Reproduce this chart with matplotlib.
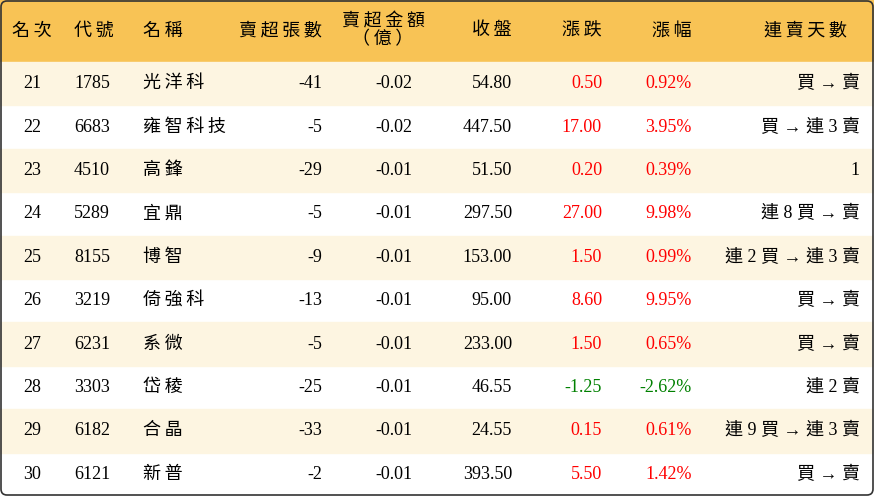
import matplotlib.pyplot as plt
from matplotlib.patches import Rectangle, FancyBboxPatch

plt.rcParams['font.family'] = ['Liberation Serif', 'Noto Sans CJK TC']

ranks = [21, 22, 23, 24, 25, 26, 27, 28, 29, 30]
codes = ['1785', '6683', '4510', '5289', '8155', '3219', '6231', '3303', '6182', '6121']
names = ['光洋科', '雍智科技', '高鋒', '宜鼎', '博智', '倚強科', '系微', '岱稜', '合晶', '新普']
net_lots = [-41, -5, -29, -5, -9, -13, -5, -25, -33, -2]
net_amount = [-0.02, -0.02, -0.01, -0.01, -0.01, -0.01, -0.01, -0.01, -0.01, -0.01]
close = [54.80, 447.50, 51.50, 297.50, 153.00, 95.00, 233.00, 46.55, 24.55, 393.50]
change = [0.50, 17.00, 0.20, 27.00, 1.50, 8.60, 1.50, -1.25, 0.15, 5.50]
pct = [0.92, 3.95, 0.39, 9.98, 0.99, 9.95, 0.65, -2.62, 0.61, 1.42]
streak = ['買 → 賣', '買 → 連 3 賣', '1', '連 8 買 → 賣', '連 2 買 → 連 3 賣',
          '買 → 賣', '買 → 賣', '連 2 賣', '連 9 買 → 連 3 賣', '買 → 賣']
headers = ['名次', '代號', '名稱', '賣超張數', '賣超金額\n（億）', '收盤', '漲跌', '漲幅', '連賣天數']

W, H = 874, 496
fig = plt.figure(figsize=(W / 100, H / 100), dpi=100)
ax = fig.add_axes([0, 0, 1, 1])
ax.set_xlim(0, W)
ax.set_ylim(H, 0)
ax.axis('off')


def spaced(s):
    # slight letter spacing between CJK characters, like the reference
    out = ''
    for a, b in zip(s, s[1:] + ' '):
        out += a
        if ord(a) > 0x2E80 and ord(b) > 0x2E80:
            out += '\u2009'
    return out


head_h = 62
row_h = (H - head_h) / len(ranks)
ax.add_patch(Rectangle((0, 0), W, head_h, color='#F8C355', zorder=0))
for i in range(len(ranks)):
    if i % 2 == 0:
        ax.add_patch(Rectangle((0, head_h + i * row_h), W, row_h, color='#FDF5E1', zorder=0))
ax.add_patch(FancyBboxPatch((1, 1), W - 2, H - 2, boxstyle='round,pad=0,rounding_size=6',
                            fill=False, ec='#333333', lw=1.2, zorder=5))

fs = 13
hpos = [(32, 'center'), (74, 'left'), (143, 'left'), (322, 'right'), (383, 'center'),
        (512, 'right'), (602, 'right'), (692, 'right'), (805, 'center')]
for (x, ha), h in zip(hpos, headers):
    txt = '\n'.join(spaced(p) for p in h.split('\n'))
    ax.text(x, head_h / 2, txt, ha=ha, va='center', fontsize=fs, linespacing=1.0)


def col(v):
    return '#FF0000' if v > 0 else ('#008000' if v < 0 else 'black')


for i in range(len(ranks)):
    y = head_h + (i + 0.5) * row_h
    ax.text(32, y, str(ranks[i]), ha='center', va='center', fontsize=fs)
    ax.text(74, y, codes[i], ha='left', va='center', fontsize=fs)
    ax.text(143, y, spaced(names[i]), ha='left', va='center', fontsize=fs)
    ax.text(322, y, f'{net_lots[i]}', ha='right', va='center', fontsize=fs)
    ax.text(412, y, f'{net_amount[i]:.2f}', ha='right', va='center', fontsize=fs)
    ax.text(512, y, f'{close[i]:.2f}', ha='right', va='center', fontsize=fs)
    ax.text(602, y, f'{change[i]:.2f}', ha='right', va='center', fontsize=fs, color=col(change[i]))
    ax.text(692, y, f'{pct[i]:.2f}%', ha='right', va='center', fontsize=fs, color=col(pct[i]))
    ax.text(860, y, streak[i], ha='right', va='center', fontsize=fs)

fig.savefig('out.png', dpi=100)
